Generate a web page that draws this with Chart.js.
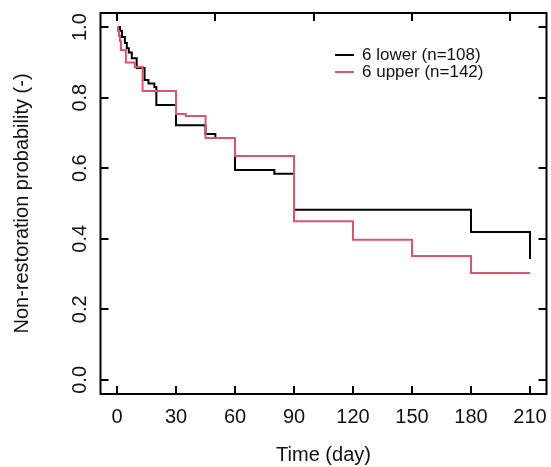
<!DOCTYPE html>
<html>
<head>
<meta charset="utf-8">
<script src="https://cdn.jsdelivr.net/npm/chart.js@4"></script>
<style>
  html, body { margin: 0; padding: 0; background: #fff; }
  #wrap { width: 551px; height: 467px; }
</style>
</head>
<body>
<div id="wrap"><canvas id="kmChart" width="551" height="467"></canvas></div>
<script>
// Kaplan-Meier steps
const lowerTimes = [0, 1.5, 2.5, 4, 5, 6, 7.5, 10, 14, 16, 19, 20, 30, 45, 50, 60, 80, 90, 180, 210];
const lowerSurv  = [1.0, 0.99, 0.972, 0.955, 0.94, 0.928, 0.912, 0.884, 0.85, 0.84, 0.83, 0.779, 0.722, 0.697, 0.686, 0.595, 0.584, 0.482, 0.419, 0.343];

const upperTimes = [0, 0.5, 1, 1.5, 2, 4.5, 9, 13, 30, 35, 45, 60, 90, 120, 150, 180, 210];
const upperSurv  = [1.0, 0.99, 0.975, 0.96, 0.935, 0.90, 0.887, 0.819, 0.754, 0.748, 0.686, 0.635, 0.45, 0.397, 0.351, 0.303, 0.303];

const xTicks = [0, 30, 60, 90, 120, 150, 180, 210];
const xTopTicks = [0, 50, 100, 150, 200];
const yTicks = [0.0, 0.2, 0.4, 0.6, 0.8, 1.0];

const seriesLabels = ['6 lower (n=108)', '6 upper (n=142)'];
const seriesColors = ['#000000', '#DF536B'];

const FONT = '"Liberation Sans", Arial, Helvetica, sans-serif';

function toPoints(times, surv) {
    return times.map((t, i) => ({ x: t, y: surv[i] }));
}

// R-style box, inward ticks, labels and legend
const rAxes = {
    id: 'rAxes',
    afterDraw(chart) {
        const ctx = chart.ctx;
        const a = chart.chartArea;
        const xs = chart.scales.x;
        const ys = chart.scales.y;
        const tl = 8;

        ctx.save();
        ctx.strokeStyle = '#000';
        ctx.lineWidth = 2;
        ctx.strokeRect(a.left, a.top, a.right - a.left, a.bottom - a.top);

        ctx.beginPath();
        xTicks.forEach(t => {
            const px = Math.round(xs.getPixelForValue(t));
            ctx.moveTo(px, a.bottom);
            ctx.lineTo(px, a.bottom - tl);
        });
        xTopTicks.forEach(t => {
            const px = Math.round(xs.getPixelForValue(t));
            ctx.moveTo(px, a.top);
            ctx.lineTo(px, a.top + tl);
        });
        yTicks.forEach(v => {
            const py = Math.round(ys.getPixelForValue(v));
            ctx.moveTo(a.left, py);
            ctx.lineTo(a.left + tl, py);
            ctx.moveTo(a.right, py);
            ctx.lineTo(a.right - tl, py);
        });
        ctx.stroke();

        ctx.fillStyle = '#111';
        ctx.font = '20px ' + FONT;
        ctx.textAlign = 'center';
        ctx.textBaseline = 'middle';
        xTicks.forEach(t => {
            ctx.fillText(String(t), xs.getPixelForValue(t), 417);
        });
        yTicks.forEach(v => {
            ctx.save();
            ctx.translate(80, ys.getPixelForValue(v));
            ctx.rotate(-Math.PI / 2);
            ctx.fillText(v.toFixed(1), 0, 0);
            ctx.restore();
        });

        ctx.fillText('Time (day)', (a.left + a.right) / 2, 455);
        ctx.save();
        ctx.translate(22, (a.top + a.bottom) / 2);
        ctx.rotate(-Math.PI / 2);
        ctx.fillText('Non-restoration probability (-)', 0, 0);
        ctx.restore();

        // legend
        ctx.font = '17px ' + FONT;
        ctx.textAlign = 'left';
        seriesLabels.forEach((lab, i) => {
            const ly = 55 + i * 17;
            ctx.strokeStyle = seriesColors[i];
            ctx.lineWidth = 2;
            ctx.beginPath();
            ctx.moveTo(335, ly);
            ctx.lineTo(354, ly);
            ctx.stroke();
            ctx.fillStyle = '#111';
            ctx.fillText(lab, 362, ly);
        });
        ctx.restore();
    }
};

const ctx = document.getElementById('kmChart').getContext('2d');
const kmChart = new Chart(ctx, {
    type: 'line',
    data: {
        datasets: [{
            label: seriesLabels[0],
            data: toPoints(lowerTimes, lowerSurv),
            borderColor: seriesColors[0],
            borderWidth: 2,
            stepped: 'before',
            pointRadius: 0,
            fill: false,
            order: 2
        }, {
            label: seriesLabels[1],
            data: toPoints(upperTimes, upperSurv),
            borderColor: seriesColors[1],
            borderWidth: 2,
            stepped: 'before',
            pointRadius: 0,
            fill: false,
            order: 1
        }]
    },
    options: {
        responsive: false,
        animation: false,
        layout: {
            padding: { left: 100.5, right: 4.5, top: 13, bottom: 73 }
        },
        plugins: {
            legend: { display: false },
            tooltip: { enabled: false }
        },
        scales: {
            x: { type: 'linear', min: -8.4, max: 218.4, display: false },
            y: { type: 'linear', min: -0.04, max: 1.04, display: false }
        }
    },
    plugins: [rAxes]
});
</script>
</body>
</html>
